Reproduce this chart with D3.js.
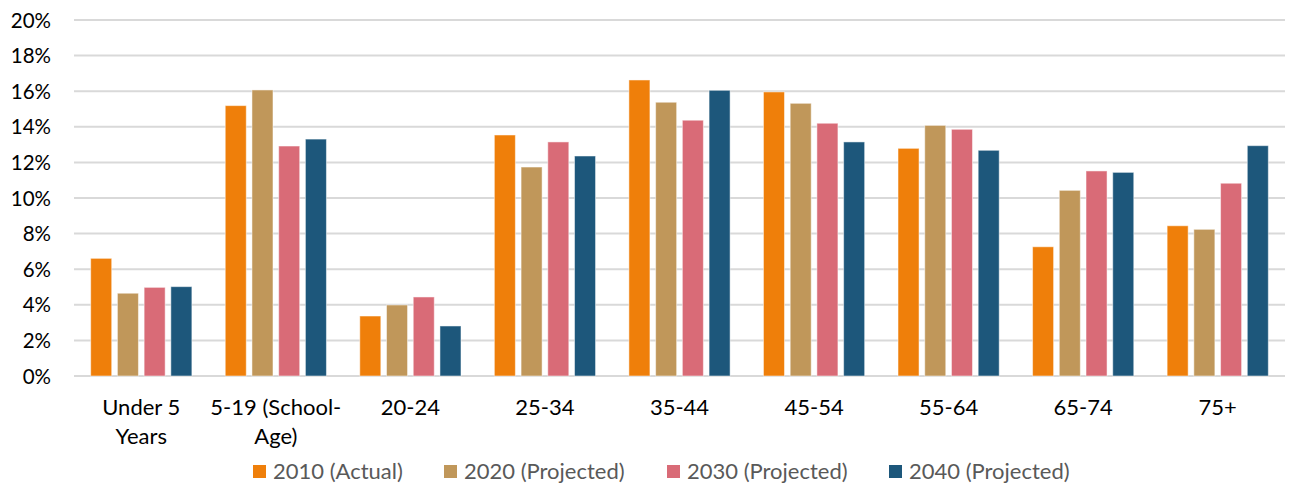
<!DOCTYPE html>
<html><head><meta charset="utf-8">
<script src="https://cdn.jsdelivr.net/npm/d3@7"></script>
<style>body{margin:0;background:#fff}svg{display:block}</style>
</head><body><svg id="c" width="1290" height="483"></svg>
<script>
const categories = ["Under 5 Years","5-19 (School-Age)","20-24","25-34","35-44","45-54","55-64","65-74","75+"];
const categoryLines = [["Under 5","Years"],["5-19 (School-","Age)"],["20-24"],["25-34"],["35-44"],["45-54"],["55-64"],["65-74"],["75+"]];
const seriesNames = ["2010 (Actual)","2020 (Projected)","2030 (Projected)","2040 (Projected)"];
const s2010 = [6.61,15.19,3.37,13.54,16.63,15.96,12.79,7.26,8.44];
const s2020 = [4.65,16.07,3.99,11.74,15.38,15.32,14.08,10.43,8.24];
const s2030 = [4.98,12.92,4.44,13.15,14.37,14.20,13.86,11.52,10.83];
const s2040 = [5.02,13.31,2.81,12.36,16.05,13.15,12.68,11.44,12.94];
const yTicks = [0,2,4,6,8,10,12,14,16,18,20];
const colors = ["#EF7F0A","#C0975A","#D96B77","#1D577B"];
const series = [s2010,s2020,s2030,s2040];

(function(){
const svg = d3.select("#c");
const font = "Lato, 'Open Sans', sans-serif";
const mL = 74, mR = 1285, mT = 20, mB = 376;
const x = d3.scaleBand().domain(categories).range([mL,mR]).paddingInner(0).paddingOuter(0);
const y = d3.scaleLinear().domain([0,20]).range([mB,mT]);
const inner = d3.scaleBand().domain(d3.range(4)).range([-50.6,50.6]).paddingInner(0.213).paddingOuter(0);

svg.append("g").selectAll("line").data(yTicks).join("line")
  .attr("x1",mL).attr("x2",mR)
  .attr("y1",d=>y(d)).attr("y2",d=>y(d))
  .attr("stroke","#D9D9D9").attr("stroke-width",2);

const yAxis = d3.axisLeft(y).tickValues(yTicks).tickFormat(d=>d+"%").tickSize(0).tickPadding(0);
const ya = svg.append("g").attr("transform",`translate(51,0)`).call(yAxis);
ya.select(".domain").remove();
ya.selectAll("text").attr("font-family",font).attr("font-size",20.5).attr("fill","#000").attr("dy","0.35em");

series.forEach((s,i)=>{
  svg.append("g").selectAll("rect").data(s).join("rect")
    .attr("x",(d,j)=>x(categories[j])+x.bandwidth()/2+inner(i))
    .attr("width",inner.bandwidth())
    .attr("y",d=>y(d)).attr("height",d=>y(0)-y(d))
    .attr("fill",colors[i])
    .attr("stroke","#fff").attr("stroke-opacity",0.5).attr("stroke-width",1);
});

const cg = svg.append("g");
categories.forEach((c,j)=>{
  const cx = x(c)+x.bandwidth()/2;
  const t = cg.append("text").attr("x",cx).attr("y",415)
    .attr("text-anchor","middle").attr("font-family",font).attr("font-size",22).attr("fill","#000");
  categoryLines[j].forEach((ln,k)=>t.append("tspan").attr("x",cx).attr("dy",k?29:0).text(ln));
});

const legX = [253,444,667,889];
const lg = svg.append("g");
seriesNames.forEach((n,i)=>{
  lg.append("rect").attr("x",legX[i]).attr("y",465).attr("width",13).attr("height",13).attr("fill",colors[i]);
  lg.append("text").attr("x",legX[i]+20).attr("y",479).attr("font-family",font).attr("font-size",22).attr("fill","#595959").text(n);
});
})();
</script></body></html>
